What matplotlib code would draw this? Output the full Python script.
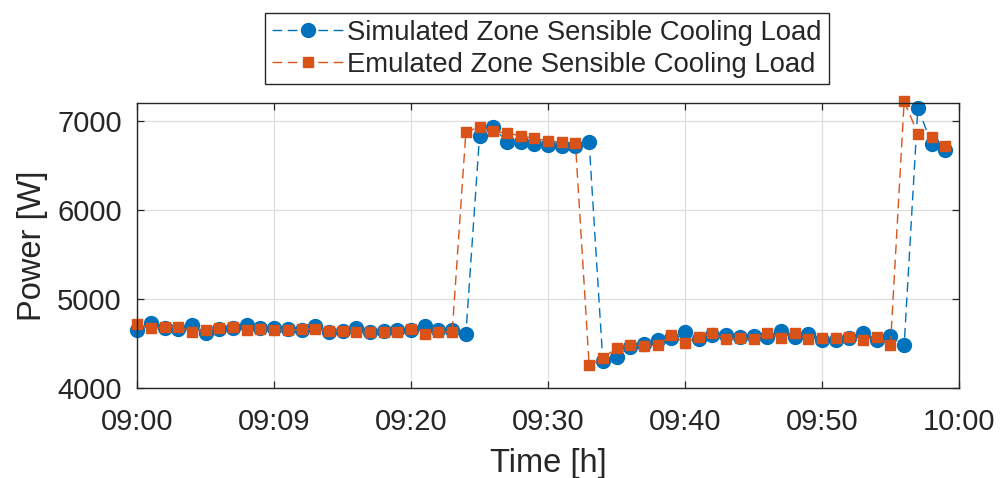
import numpy as np
import matplotlib
matplotlib.use("Agg")
import matplotlib.pyplot as plt

plt.rcParams['font.family'] = ['Liberation Sans', 'DejaVu Sans']

# one sample per minute, 09:00 .. 09:59
minutes = np.arange(60)

simulated = [4650, 4727, 4671, 4660, 4708, 4615, 4660, 4670, 4708, 4670,
             4670, 4660, 4652, 4697, 4630, 4640, 4670, 4630, 4640, 4655,
             4655, 4700, 4650, 4655, 4603, 6832, 6930, 6760, 6755, 6735,
             6725, 6720, 6720, 6755, 4300, 4352, 4465, 4494, 4540, 4558,
             4633, 4547, 4596, 4596, 4577, 4585, 4577, 4644, 4570, 4610,
             4540, 4545, 4560, 4615, 4540, 4585, 4483, 7144, 6742, 6675]

emulated = [4720, 4670, 4680, 4690, 4633, 4650, 4670, 4690, 4650, 4660,
            4650, 4650, 4660, 4660, 4640, 4645, 4625, 4625, 4635, 4630,
            4660, 4605, 4635, 4625, 6870, 6930, 6880, 6860, 6830, 6800,
            6775, 6755, 6745, 4258, 4337, 4450, 4483, 4472, 4483, 4596,
            4510, 4577, 4615, 4547, 4560, 4547, 4615, 4560, 4615, 4547,
            4560, 4560, 4577, 4540, 4577, 4483, 7215, 6855, 6818, 6712]

tick_pos = [0, 10, 20, 30, 40, 50, 60]
tick_labels = ['09:00', '09:09', '09:20', '09:30', '09:40', '09:50', '10:00']
y_ticks = [4000, 5000, 6000, 7000]

blue = '#0072BD'
orange = '#D95319'
ink = '#262626'

fig = plt.figure(figsize=(10.01, 4.78), dpi=100)
ax = fig.add_axes([0.137, 0.188, 0.821, 0.597])

ax.plot(minutes, simulated, color=blue, lw=1.0, dashes=(7, 4),
        marker='o', markersize=10, markeredgecolor=blue, clip_on=False,
        label='Simulated Zone Sensible Cooling Load')
ax.plot(minutes, emulated, color=orange, lw=1.0, dashes=(7, 4),
        marker='s', markersize=7.5, markeredgecolor=orange, clip_on=False,
        label='Emulated Zone Sensible Cooling Load')

ax.set_xlim(0, 60)
ax.set_ylim(4000, 7200)
ax.set_xticks(tick_pos)
ax.set_xticklabels(tick_labels)
ax.set_yticks(y_ticks)

ax.grid(True, color='#dedede', lw=0.9)
ax.set_axisbelow(True)
ax.tick_params(direction='in', top=True, right=True, length=5, width=0.9,
               colors=ink, labelsize=21)
ax.tick_params(axis='x', pad=14)
ax.tick_params(axis='y', pad=11)
for sp in ax.spines.values():
    sp.set_color(ink)
    sp.set_linewidth(1.0)

ax.set_xlabel('Time [h]', fontsize=23.5, color=ink, labelpad=9)
ax.set_ylabel('Power [W]', fontsize=23.5, color=ink, labelpad=7)

leg = ax.legend(loc='lower center', bbox_to_anchor=(0.4985, 1.045), ncol=1,
                fontsize=19.8, frameon=True, fancybox=False, framealpha=1,
                edgecolor=ink, handlelength=2.6, handletextpad=0.15,
                borderpad=0.25, labelspacing=0.22, borderaxespad=0.2)
leg.get_frame().set_linewidth(1.0)
for t in leg.get_texts():
    t.set_color(ink)

fig.savefig('out.png', dpi=100)
